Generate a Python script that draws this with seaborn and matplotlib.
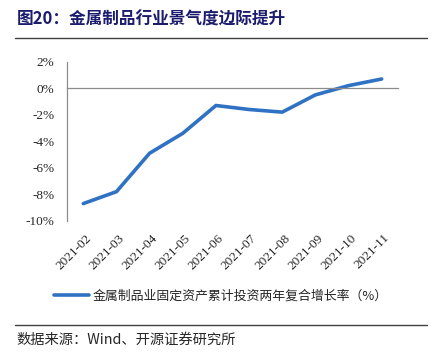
import numpy as np
import pandas as pd
import matplotlib
matplotlib.use("Agg")
import matplotlib.pyplot as plt
import seaborn as sns

# data (% , two-year CAGR of cumulative FAI)
months = ["2021-02", "2021-03", "2021-04", "2021-05", "2021-06",
          "2021-07", "2021-08", "2021-09", "2021-10", "2021-11"]
growth = [-8.7, -7.8, -4.9, -3.4, -1.3, -1.6, -1.8, -0.5, 0.2, 0.7]
yticks = [-10, -8, -6, -4, -2, 0, 2]

series_name = "金属制品业固定资产累计投资两年复合增长率（%）"
title = "图20：金属制品行业景气度边际提升"
source = "数据来源：Wind、开源证券研究所"

df = pd.DataFrame({"pos": range(len(months)), "month": months, "value": growth})

sns.set_style("white")
plt.rcParams['font.family'] = ['Liberation Serif', 'Noto Sans CJK SC']
cjk = ['Noto Sans CJK SC', 'DejaVu Sans']

fig = plt.figure(figsize=(4.42, 3.55), dpi=100)
ax = fig.add_axes([0.151, 0.378, 0.75, 0.448])

sns.lineplot(data=df, x="pos", y="value", ax=ax, color="#2f72c4",
             linewidth=2.6, solid_capstyle="round", solid_joinstyle="round",
             label=series_name, legend=False)

ax.set_xlim(-0.5, len(months) - 0.5)
ax.set_ylim(-10, 2)
ax.set_yticks(yticks)
ax.set_yticklabels([f"{v}%" for v in yticks], fontsize=9.5)
ax.set_xlabel("")
ax.set_ylabel("")

# x axis sits on the zero line, ticks between categories
ax.spines["bottom"].set_position(("data", 0))
ax.spines["top"].set_visible(False)
ax.spines["right"].set_visible(False)
for s in ["left", "bottom"]:
    ax.spines[s].set_color("#8c8c8c")
    ax.spines[s].set_linewidth(0.9)
ax.set_xticks(np.arange(-0.5, len(months), 1.0))
ax.set_xticklabels([])
ax.tick_params(axis="x", direction="in", length=3, color="#8c8c8c", width=0.9)
ax.tick_params(axis="y", direction="in", length=3, color="#8c8c8c", width=0.9, pad=9)

for i, m in enumerate(months):
    ax.text(i + 0.05, -0.07, m, transform=ax.get_xaxis_transform(), rotation=45,
            ha="right", va="top", rotation_mode="anchor", fontsize=9.5)

# legend
h, l = ax.get_legend_handles_labels()
fig.legend(h, l, loc="center", bbox_to_anchor=(0.5, 0.165), frameon=False,
           prop={"family": cjk, "size": 9.3}, handlelength=2.7, handletextpad=0.3)

# title and source
fig.text(0.038, 0.945, title, fontsize=12, fontweight="bold", color="#1c1c6e",
         family=cjk, va="center")
fig.add_artist(plt.Line2D([0.034, 0.966], [0.893, 0.893], color="#404040", lw=1.0))
fig.add_artist(plt.Line2D([0.034, 0.966], [0.085, 0.085], color="#404040", lw=1.0))
fig.text(0.036, 0.042, source, fontsize=10.3, family=cjk, va="center")

fig.savefig("out.png", dpi=100)
